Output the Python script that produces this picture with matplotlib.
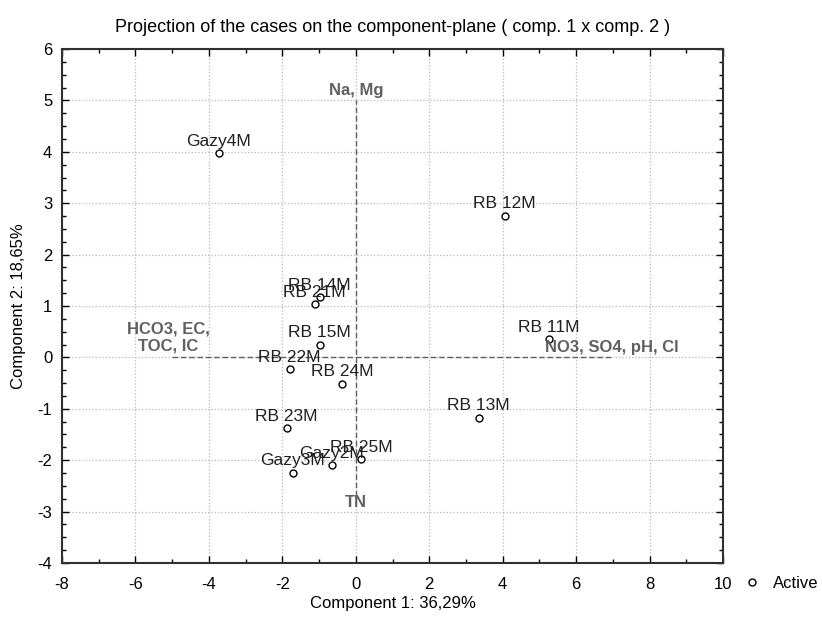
import matplotlib.pyplot as plt
from matplotlib.ticker import MultipleLocator

plt.rcParams['font.family'] = ['Liberation Sans', 'DejaVu Sans']
plt.rcParams['axes.unicode_minus'] = False

# case scores (comp. 1, comp. 2)
names = ["Gazy4M", "RB 12M", "RB 11M", "RB 13M", "RB 14M", "RB 21M", "RB 15M",
         "RB 22M", "RB 24M", "RB 23M", "RB 25M", "Gazy2M", "Gazy3M"]
comp1 = [-3.73, 4.05, 5.25, 3.35, -0.98, -1.12, -0.98, -1.80, -0.38, -1.88, 0.14, -0.65, -1.71]
comp2 = [3.97, 2.76, 0.35, -1.17, 1.17, 1.03, 0.25, -0.23, -0.51, -1.38, -1.98, -2.10, -2.24]

# variable groups drawn as axis-end labels
var_labels = ["Na, Mg", "TN", "HCO3, EC,\nTOC, IC", "NO3, SO4, pH, Cl"]
var_x = [0.0, 0.0, -5.1, 6.97]
var_y = [5.2, -2.82, 0.39, 0.2]
hline_x = [-5.0, 7.0]
vline_y = [-2.7, 5.0]

fig = plt.figure(figsize=(8.22, 6.19), dpi=100)
ax = fig.add_axes([0.0754, 0.0905, 0.8042, 0.8303])

grey = "#606060"
ax.plot(hline_x, [0, 0], ls=(0, (4, 2)), color=grey, lw=1)
ax.plot([0, 0], vline_y, ls=(0, (4, 2)), color=grey, lw=1)

ax.plot(comp1, comp2, ls="none", marker="o", ms=5, mfc="white", mec="black",
        mew=1, label="Active", zorder=3)
for n, x, y in zip(names, comp1, comp2):
    ax.annotate(n, (x, y), xytext=(0, 3), textcoords="offset points",
                ha="center", va="bottom", fontsize=12.5, color="#202020")

for t, x, y in zip(var_labels, var_x, var_y):
    ax.text(x, y, t, ha="center", va="center", fontsize=12, fontweight="bold",
            color=grey, multialignment="center")

ax.set_xlim(-8, 10)
ax.set_ylim(-4, 6)
ax.xaxis.set_major_locator(MultipleLocator(2))
ax.xaxis.set_minor_locator(MultipleLocator(1))
ax.yaxis.set_major_locator(MultipleLocator(1))
ax.yaxis.set_minor_locator(MultipleLocator(0.25))
ax.tick_params(which="both", direction="in", top=True, right=True, labelsize=12)
ax.tick_params(which="major", length=5, width=1, pad=7)
ax.tick_params(axis="x", which="major", pad=10)
ax.tick_params(which="minor", length=3, width=1)
ax.grid(True, which="major", ls=":", color="#b8b8b8", lw=0.9)
for s in ax.spines.values():
    s.set_linewidth(1.5)
    s.set_color("#303030")

ax.set_title("Projection of the cases on the component-plane ( comp. 1 x comp. 2 )",
             fontsize=13, pad=12)
ax.set_xlabel("Component 1: 36,29%", fontsize=12, labelpad=3)
ax.set_ylabel("Component 2: 18,65%", fontsize=12, labelpad=8)

ax.legend(loc="center left", bbox_to_anchor=(1.018, -0.04), frameon=False,
          fontsize=12, handlelength=1.2, handletextpad=0.7, borderaxespad=0)

fig.savefig("out.png", dpi=100)
